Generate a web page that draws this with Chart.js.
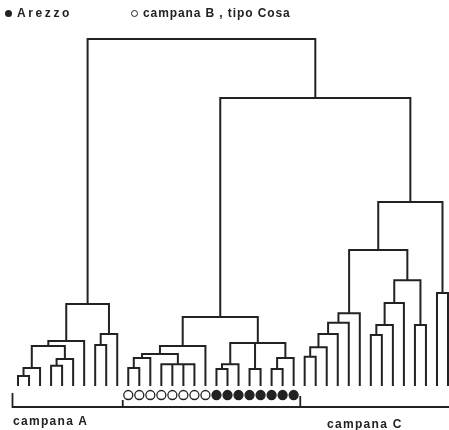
<!DOCTYPE html>
<html>
<head>
<meta charset="utf-8">
<script src="https://cdn.jsdelivr.net/npm/chart.js@4"></script>
<style>
  body { margin: 0; background: #fff; }
  #wrap { position: relative; width: 449px; height: 430px; }
  .lbl {
    position: absolute;
    font-family: "Liberation Sans", Arial, sans-serif;
    font-weight: bold;
    font-size: 12px;
    letter-spacing: 1.3px;
    color: #222;
    white-space: nowrap;
    line-height: 14px;
  }
  .dot {
    display: inline-block;
    width: 7px; height: 7px;
    border-radius: 50%;
    margin-right: 5px;
    vertical-align: 0px;
    box-sizing: border-box;
  }
  .dot.full { background: #222; }
  .dot.open { border: 1.3px solid #222; background: #fff; }
</style>
</head>
<body>
<div id="wrap">
  <canvas id="chart" width="449" height="430"></canvas>
  <div class="lbl" style="left:5px; top:6px; letter-spacing:2.6px;"><span class="dot full"></span>Arezzo</div>
  <div class="lbl" style="left:131px; top:6px; letter-spacing:0.9px;"><span class="dot open"></span>campana B , tipo Cosa</div>
  <div class="lbl" style="left:13px; top:414px;">campana A</div>
  <div class="lbl" style="left:327px; top:417px;">campana C</div>
</div>
<script>
// foglie (ordine sul grafico): 0-9 campana A, 10-25 campana B, 26-39 campana C
const leafCount = 40;
const groupStarts = [0, 10, 26];
const openLeaves = [10, 11, 12, 13, 14, 15, 16, 17];      // campana B, tipo Cosa
const filledLeaves = [18, 19, 20, 21, 22, 23, 24, 25];    // Arezzo

// fusioni: nome, figli (foglie o fusioni precedenti), altezza
const mergeNames = [
  'a1', 'a2', 'a3', 'a4', 'a5', 'a6', 'a7', 'a8', 'a9',
  'b1', 'b2', 'b3', 'b4', 'b5', 'b6', 'b7', 'b8', 'b9', 'b10', 'b11', 'b12',
  'c1', 'c2', 'c3', 'c4', 'c5', 'c6', 'c7', 'c8', 'c9', 'c10', 'c11', 'c12', 'c13',
  'd1', 'root'
];
const mergeChildren = [
  [0, 1], ['a1', 2], [3, 4], ['a3', 5], ['a2', 'a4'], ['a5', 6], [7, 8], ['a7', 9], ['a6', 'a8'],
  [10, 11], ['b1', 12], [13, 14, 15, 16], ['b2', 'b3'], ['b4', 17],
  [18, 19], ['b6', 20], [21, 22], [23, 24], ['b9', 25], ['b7', 'b8', 'b10'], ['b5', 'b11'],
  [26, 27], ['c1', 28], ['c2', 29], ['c3', 30], ['c4', 31],
  [32, 33], ['c6', 34], ['c7', 35], [36, 37], ['c8', 'c9'], ['c5', 'c10'], [38, 39], ['c11', 'c12'],
  ['b12', 'c13'], ['a9', 'd1']
];
const mergeHeights = [
  2.9, 5.2, 5.8, 7.8, 11.5, 13.0, 11.8, 15.0, 23.6,
  5.2, 8.1, 6.3, 9.2, 11.5, 4.9, 6.3, 4.9, 4.9, 8.1, 12.4, 19.9,
  8.4, 11.2, 15.0, 18.2, 21.0, 14.7, 17.6, 23.9, 17.6, 30.5, 39.2, 26.8, 53.0,
  83.0, 100
];

// stile
const INK = '#222';
const markerLevel = -2.6;
const bracketBase = -6.05;

// posizioni dei nodi
const nodes = {};
for (let i = 0; i < leafCount; i++) nodes[i] = { x: i, h: 0 };
mergeNames.forEach((name, i) => {
  const kids = mergeChildren[i].map(k => nodes[k]);
  const xs = kids.map(k => k.x);
  nodes[name] = { x: (Math.min(...xs) + Math.max(...xs)) / 2, h: mergeHeights[i] };
});

// un dataset per ogni fusione (forma a U, figli centrali come tratti separati)
const linkSets = mergeNames.map((name, i) => {
  const kids = mergeChildren[i].map(k => nodes[k]);
  const H = mergeHeights[i];
  const first = kids[0], last = kids[kids.length - 1];
  const data = [
    { x: first.x, y: first.h }, { x: first.x, y: H },
    { x: last.x, y: H }, { x: last.x, y: last.h }
  ];
  kids.slice(1, -1).forEach(k => {
    data.push({ x: k.x, y: null });
    data.push({ x: k.x, y: k.h }, { x: k.x, y: H });
  });
  return {
    label: name, data: data, showLine: true, spanGaps: false,
    borderColor: INK, borderWidth: 2, pointRadius: 0, clip: false
  };
});

// parentesi sotto le foglie
const bracketData = [
  { x: groupStarts[0] - 0.5, y: -2.0 }, { x: groupStarts[0] - 0.5, y: bracketBase },
  { x: 39.1, y: bracketBase },
  { x: groupStarts[1] - 0.5, y: null },
  { x: groupStarts[1] - 0.5, y: -4.0 }, { x: groupStarts[1] - 0.5, y: bracketBase },
  { x: groupStarts[2] - 0.4, y: null },
  { x: groupStarts[2] - 0.4, y: -2.9 }, { x: groupStarts[2] - 0.4, y: bracketBase }
];

const markerSets = [
  {
    label: 'campana B , tipo Cosa',
    data: openLeaves.map(i => ({ x: i, y: markerLevel })),
    pointRadius: 4.5, pointBorderWidth: 1.3,
    pointBackgroundColor: '#fff', pointBorderColor: INK, clip: false
  },
  {
    label: 'Arezzo',
    data: filledLeaves.map(i => ({ x: i, y: markerLevel })),
    pointRadius: 4.5, pointBorderWidth: 1.3,
    pointBackgroundColor: INK, pointBorderColor: INK, clip: false
  }
];

new Chart(document.getElementById('chart'), {
  type: 'scatter',
  data: {
    datasets: [
      ...linkSets,
      { label: 'brackets', data: bracketData, showLine: true, spanGaps: false,
        borderColor: INK, borderWidth: 1.8, pointRadius: 0, clip: false },
      ...markerSets
    ]
  },
  options: {
    responsive: false,
    animation: false,
    layout: { padding: 0, autoPadding: false },
    plugins: { legend: { display: false }, tooltip: { enabled: false } },
    scales: {
      x: { type: 'linear', display: false, min: -1.633, max: 39.09 },
      y: { type: 'linear', display: false, min: -12.68, max: 111.24 }
    }
  }
});
</script>
</body>
</html>
